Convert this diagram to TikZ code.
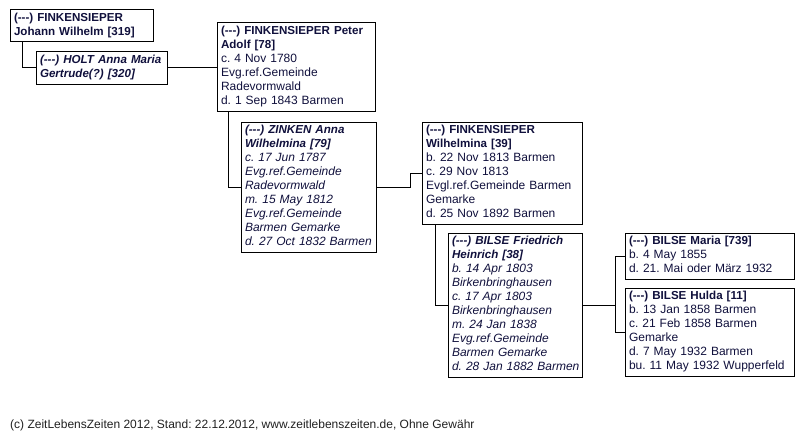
\documentclass[tikz,border=0pt]{standalone}
\usepackage{fontspec}
\setmainfont{Liberation Sans}
\usepackage{array}
\usetikzlibrary{calc}
\definecolor{txt}{HTML}{10103C}
\definecolor{foot}{HTML}{202020}
\newcommand{\nm}[1]{{\fontsize{11.6}{14}\selectfont\bfseries #1}}
\newcommand{\dsh}{(-{}-{}-)}
\newcommand{\plines}[1]{\begin{tabular}{@{}l@{}}#1\end{tabular}}
\newcommand{\ilines}[1]{\begin{tabular}{@{}>{\itshape}l@{}}#1\end{tabular}}
\frenchspacing
\begin{document}
\begin{tikzpicture}[x=1pt,y=-1pt,
  pbox/.style={draw, line width=1pt, anchor=north west, inner xsep=4pt, inner ysep=2pt,
    align=left, text=txt, font=\fontsize{12}{14}\selectfont\frenchspacing},
  link/.style={line width=1pt}]
\useasboundingbox (0,0) rectangle (803,436);

\node[pbox, text width=135pt] (j319) at (9.5,9.5)
  {\plines{\nm{\dsh{} FINKENSIEPER}\\ \nm{Johann Wilhelm [319]}}};
\node[pbox, text width=123pt] (h320) at (35.5,51.5)
  {\ilines{\nm{\dsh{} HOLT Anna Maria}\\ \nm{Gertrude(?) [320]}}};
\node[pbox, text width=150.5pt] (p78) at (216.5,22.5)
  {\plines{\nm{\dsh{} FINKENSIEPER Peter}\\ \nm{Adolf [78]}\\ c. 4 Nov 1780\\ Evg.ref.Gemeinde\\ Radevormwald\\ d. 1 Sep 1843 Barmen}};
\node[pbox, text width=127.5pt] (z79) at (240.5,121.5)
  {\ilines{\nm{\dsh{} ZINKEN Anna}\\ \nm{Wilhelmina [79]}\\ c. 17 Jun 1787\\ Evg.ref.Gemeinde\\ Radevormwald\\ m. 15 May 1812\\ Evg.ref.Gemeinde\\ Barmen Gemarke\\ d. 27 Oct 1832 Barmen}};
\node[pbox, text width=152pt] (w39) at (421.5,121.5)
  {\plines{\nm{\dsh{} FINKENSIEPER}\\ \nm{Wilhelmina [39]}\\ b. 22 Nov 1813 Barmen\\ c. 29 Nov 1813\\ Evgl.ref.Gemeinde Barmen\\ Gemarke\\ d. 25 Nov 1892 Barmen}};
\node[pbox, text width=126pt] (b38) at (447.5,232.5)
  {\ilines{\nm{\dsh{} BILSE Friedrich}\\ \nm{Heinrich [38]}\\ b. 14 Apr 1803\\ Birkenbringhausen\\ c. 17 Apr 1803\\ Birkenbringhausen\\ m. 24 Jan 1838\\ Evg.ref.Gemeinde\\ Barmen Gemarke\\ d. 28 Jan 1882 Barmen}};
\node[pbox, text width=161pt] (m739) at (624.5,232.5)
  {\plines{\nm{\dsh{} BILSE Maria [739]}\\ b. 4 May 1855\\ d. 21. Mai oder März 1932}};
\node[pbox, text width=161pt] (h11) at (624.5,287.5)
  {\plines{\nm{\dsh{} BILSE Hulda [11]}\\ b. 13 Jan 1858 Barmen\\ c. 21 Feb 1858 Barmen\\ Gemarke\\ d. 7 May 1932 Barmen\\ bu. 11 May 1932 Wupperfeld}};

\node[anchor=base west, inner sep=0pt, text=foot, font=\fontsize{12}{14}\selectfont\frenchspacing] (foot) at (10,428)
  {(c) ZeitLebensZeiten 2012, Stand: 22.12.2012, www.zeitlebenszeiten.de, Ohne Gewähr};

\draw[link] (j319.south west) ++(12.5,0) |- (h320.west);
\draw[link] (h320.east) -- (h320.east -| p78.west);
\draw[link] (p78.south west) ++(11.5,0) |- (z79.west);
\draw[link] (z79.east) -- ++(33,0) |- (w39.west);
\draw[link] (w39.south west) ++(13.5,0) |- (b38.west);
\draw[link] (b38.east) -- ++(33,0) coordinate (fork);
\draw[link] (m739.west) -| (fork);
\draw[link] (h11.west) -| (fork);
\end{tikzpicture}
\end{document}
